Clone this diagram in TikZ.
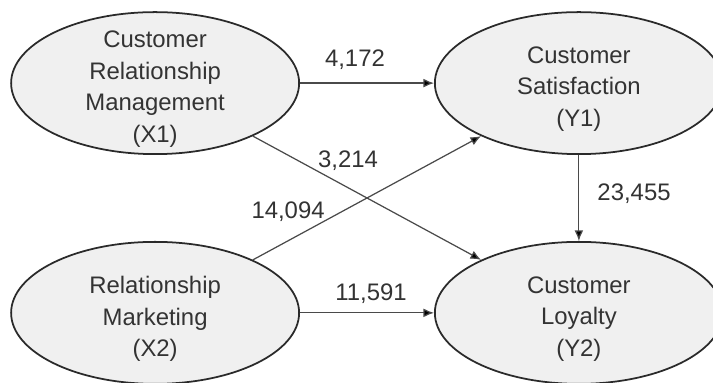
\documentclass[tikz,border=0pt]{standalone}
\usepackage{fontspec}
\setmainfont{Liberation Sans}
\usepackage{tikz}
\usetikzlibrary{matrix}
\usetikzlibrary{shapes.geometric}
\usetikzlibrary{arrows.meta}

\definecolor{cfill}{HTML}{F0F0F0}
\definecolor{cline}{HTML}{2A2A2A}
\definecolor{cconn}{HTML}{4A4A4A}
\definecolor{ctext}{HTML}{333333}

\tikzset{
  % text sits as a centred label, so the ellipse keeps its own size
  construct/.style={ellipse, draw=cline, line width=1pt, fill=cfill,
    minimum width=5.76cm, minimum height=2.84cm, inner sep=0pt,
    label={[ctxt]center:{#1}}},
  ctxt/.style={text=ctext, align=center, inner sep=0pt, yshift=-0.12cm,
    font=\fontsize{13.6}{18}\selectfont},
  lbl/.style={inner sep=0pt, text=ctext, font=\fontsize{13.6}{18}\selectfont},
  conn/.style={draw=cconn, line width=0.7pt, -{Latex[length=6pt,width=5pt]}}
}

\begin{document}
\begin{tikzpicture}
  \useasboundingbox (-7.34,3.96) rectangle (6.92,-3.7);
  \matrix (m) [row sep=1.72cm,column sep=2.68cm,inner sep=0pt]
  {
     \node[construct={Customer\\Relationship\\Management\\(X1)}] (x1) {}; &
     \node[construct={Customer\\Satisfaction\\(Y1)}] (y1) {}; \\ % row 1
     \node[construct={Relationship\\Marketing\\(X2)}] (x2) {}; &
     \node[construct={Customer\\Loyalty\\(Y2)}] (y2) {}; \\ % row 2
  };
  \path[conn]
    (x1) edge node [lbl, above=0.26cm, pos=0.41]  {4,172}  (y1)
    (x1) edge node [lbl, above=0.34cm, pos=0.417] {3,214}  (y2)
    (x2) edge node [lbl, above=0.38cm, pos=0.154] {14,094} (y1)
    (y1) edge node [lbl, right=0.36cm, pos=0.45]  {23,455} (y2)
    (x2) edge node [lbl, above=0.18cm, pos=0.53]  {11,591} (y2);
\end{tikzpicture}
\end{document}
